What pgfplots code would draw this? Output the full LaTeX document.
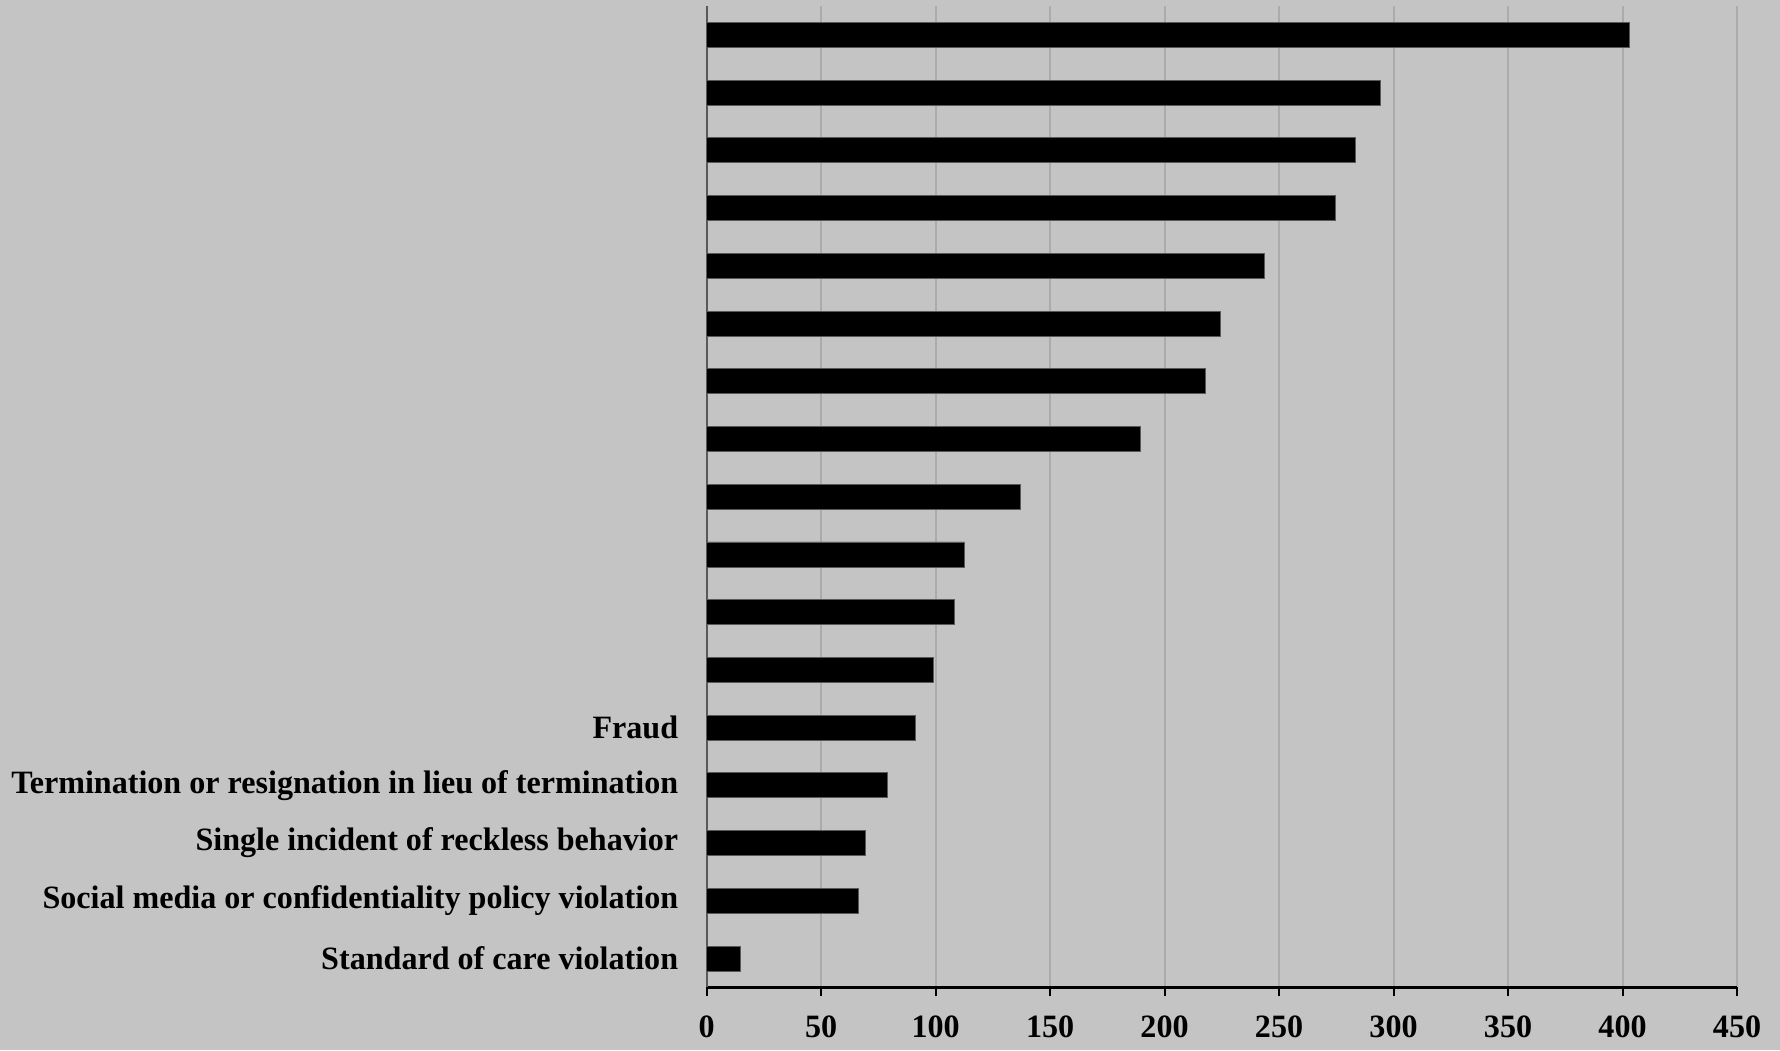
\documentclass[border=0pt]{standalone}
\usepackage{fontspec}
\setmainfont[FakeStretch=0.985]{Liberation Serif}
\usepackage{pgfplots}
\pgfplotsset{compat=1.18}
\definecolor{bgcol}{HTML}{C4C4C4}
\definecolor{gridcol}{HTML}{ABABAB}
\definecolor{leftax}{HTML}{595959}
\begin{document}
\begin{tikzpicture}
\fill[bgcol] (-353.5pt,-31.5pt) rectangle (537pt,494pt);
\begin{axis}[
  at={(0,0)}, anchor=south west,
  scale only axis,
  width=515.5pt, height=491pt,
  xbar, bar width=12.5pt,
  xmin=0, xmax=450,
  ymin=-0.5, ymax=16.5,
  xtick={0,50,...,450},
  ytick={0,1,2,3,4},
  yticklabels={Standard of care violation,Social media or confidentiality policy violation,Single incident of reckless behavior\hspace{3.5pt},Termination or resignation in lieu of termination,Fraud},
  axis x line*=bottom,
  axis y line*=left,
  x axis line style={black, line width=1.5pt, -},
  y axis line style={leftax, line width=1pt, -},
  xmajorgrids,
  grid style={gridcol, line width=1pt},
  major x tick style={black, line width=1pt},
  x tick style={black, line width=1pt},
  major tick length=4.5pt,
  tick align=outside,
  y tick style={draw=none},
  /pgf/number format/assume math mode=true,
  ticklabel style={font=\fontsize{16.3}{18}\selectfont\bfseries, text=black},
  xticklabel style={yshift=-6.3pt},
  yticklabel style={xshift=-6.2pt},
  axis background/.style={fill=none},
  clip=false,
]
\addplot[fill=black, draw=black!65, line width=0.4pt] coordinates {
(14.9,0) (66.5,1) (69.5,2) (78.9,3) (91.3,4) (99.2,5) (108.2,6) (112.6,7)
(136.9,8) (189.5,9) (217.8,10) (224.3,11) (243.6,12) (274.4,13) (283.3,14) (294.1,15) (403,16)
};
\end{axis}
\pgfresetboundingbox
\path (-353.5pt,-31.5pt) rectangle (537pt,494pt);
\end{tikzpicture}
\end{document}
